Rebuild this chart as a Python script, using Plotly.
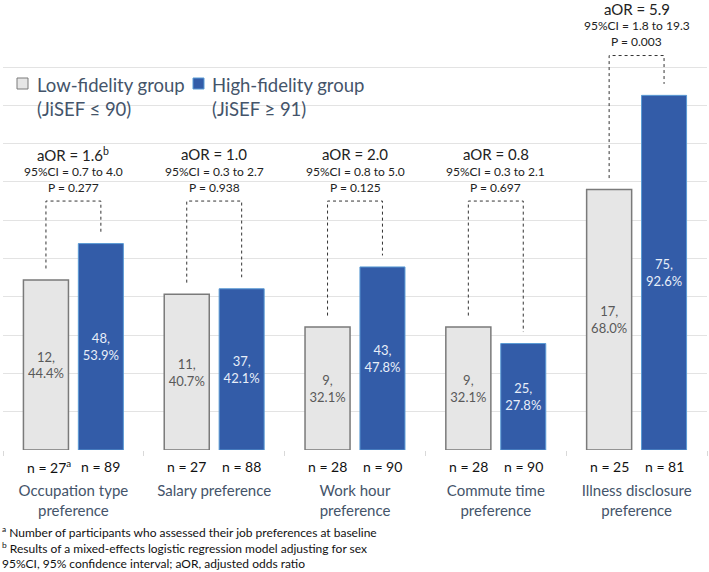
import plotly.graph_objects as go

# ---- data ----
categories = ["Occupation type<br>preference", "Salary preference", "Work hour<br>preference",
              "Commute time<br>preference", "Illness disclosure<br>preference"]
low_pct = [44.4, 40.7, 32.1, 32.1, 68.0]
high_pct = [53.9, 42.1, 47.8, 27.8, 92.6]
low_count = [12, 11, 9, 9, 17]
high_count = [48, 37, 43, 25, 75]
low_n = ["27<sup>a</sup>", "27", "28", "28", "25"]
high_n = ["89", "88", "90", "90", "81"]
aor = ["1.6<sup>b</sup>", "1.0", "2.0", "0.8", "5.9"]
ci = ["0.7 to 4.0", "0.3 to 2.7", "0.8 to 5.0", "0.3 to 2.1", "1.8 to 19.3"]
pval = ["0.277", "0.938", "0.125", "0.697", "0.003"]
bracket_top = [65, 65, 65, 65, 103]
legend_names = ["Low-fidelity group<br>(JiSEF ≤ 90)", "High-fidelity group<br>(JiSEF ≥ 91)"]

FONT = "Lato"
W, H = 709, 572
ML, MR, MT, MB = 3, 2, 0, 122
PW, PH = W - ML - MR, H - MT - MB
BARGAP = 0.22
BARGROUPGAP = 0.18
LOW_FILL, LOW_LINE = "#e6e6e6", "#7a7a7a"
HIGH_FILL, HIGH_LINE = "#335ca8", "#5b9bd5"
xs = list(range(len(categories)))
off = (1 - BARGAP) / 4  # half slot offset for 2 traces


def px(x):
    return (x - ML) / PW


def py(y):
    return (PH + MT - y) / PH


fig = go.Figure()
fig.add_bar(
    x=xs, y=low_pct, name=legend_names[0], showlegend=False,
    marker=dict(color=LOW_FILL, line=dict(color=LOW_LINE, width=1.5)),
    text=[f"{c},<br>{v:.1f}%" for c, v in zip(low_count, low_pct)],
    textposition="inside", insidetextanchor="middle", textangle=0,
    textfont=dict(color="#595959", size=13, family=FONT),
)
fig.add_bar(
    x=xs, y=high_pct, name=legend_names[1], showlegend=False,
    marker=dict(color=HIGH_FILL, line=dict(color=HIGH_LINE, width=1)),
    text=[f"{c},<br>{v:.1f}%" for c, v in zip(high_count, high_pct)],
    textposition="inside", insidetextanchor="middle", textangle=0,
    textfont=dict(color="#e8eef8", size=13, family=FONT),
)

annotations = []
shapes = []
for i in xs:
    xl, xr = i - off, i + off
    top = bracket_top[i]
    shapes.append(dict(
        type="path", xref="x", yref="y",
        path=f"M {xl},{low_pct[i] + 3} L {xl},{top} L {xr},{top} L {xr},{high_pct[i] + 3}",
        line=dict(color="#333333", width=1, dash="dot"),
    ))
    annotations.append(dict(x=i, y=top, xref="x", yref="y", yshift=47, showarrow=False,
                            text=f"aOR = {aor[i]}", font=dict(size=15, color="#222222", family=FONT)))
    annotations.append(dict(x=i, y=top, xref="x", yref="y", yshift=30, showarrow=False,
                            text=f"95%CI = {ci[i]}", font=dict(size=12, color="#222222", family=FONT)))
    annotations.append(dict(x=i, y=top, xref="x", yref="y", yshift=14, showarrow=False,
                            text=f"P = {pval[i]}", font=dict(size=12, color="#222222", family=FONT)))
    annotations.append(dict(x=xl, y=0, xref="x", yref="y", yshift=-16, showarrow=False,
                            xshift=3 if "sup" in low_n[i] else 0,
                            text=f"n = {low_n[i]}", font=dict(size=14, color="#111111", family=FONT)))
    annotations.append(dict(x=xr, y=0, xref="x", yref="y", yshift=-16, showarrow=False,
                            text=f"n = {high_n[i]}", font=dict(size=14, color="#111111", family=FONT)))

# legend (swatch + two-line label)
for (sx, tx), name, fill, line in zip([(17, 35), (193, 210)], legend_names,
                                      [LOW_FILL, HIGH_FILL], [LOW_LINE, HIGH_LINE]):
    shapes.append(dict(type="rect", xref="paper", yref="paper",
                       x0=px(sx), x1=px(sx + 11), y0=py(89), y1=py(78),
                       fillcolor=fill, line=dict(color=line, width=1)))
    annotations.append(dict(x=px(tx), y=py(72), xref="paper", yref="paper", xanchor="left",
                            yanchor="top", align="left", showarrow=False, text=name,
                            font=dict(size=18.5, color="#44546a", family=FONT)))

annotations.append(dict(
    x=px(0), y=py(547), xref="paper", yref="paper", xanchor="left", yanchor="middle",
    align="left", showarrow=False,
    text="<sup>a</sup> Number of participants who assessed their job preferences at baseline<br>"
         "<sup>b</sup> Results of a mixed-effects logistic regression model adjusting for sex<br>"
         "95%CI, 95% confidence interval; aOR, adjusted odds ratio",
    font=dict(size=12, color="#111111", family=FONT),
))

fig.update_layout(
    width=W, height=H,
    margin=dict(l=ML, r=MR, t=MT, b=MB),
    plot_bgcolor="white", paper_bgcolor="white",
    barmode="group", bargap=BARGAP, bargroupgap=BARGROUPGAP,
    font=dict(family=FONT),
    showlegend=False,
    annotations=annotations, shapes=shapes,
)
fig.update_yaxes(range=[0, 117.5], tickvals=list(range(0, 101, 10)), showticklabels=False,
                 gridcolor="#e3e3e3", gridwidth=1, zeroline=False, showline=False)
fig.update_xaxes(range=[-0.5, 4.5], tickvals=xs, ticktext=categories, ticks="",
                 ticklabelstandoff=30, tickfont=dict(size=15, color="#44546a", family=FONT),
                 showgrid=False, zeroline=False, showline=False,
                 minor=dict(tickvals=[v - 0.5 for v in range(len(categories) + 1)], ticks="outside",
                            ticklen=5, tickcolor="#d9d9d9", showgrid=False))

fig.write_html("out.html", config={"displayModeBar": False},
               post_script="document.body.style.margin='0';")
